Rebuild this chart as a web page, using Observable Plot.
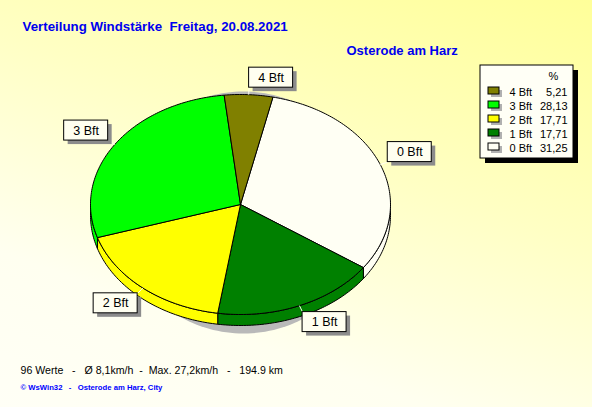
<!DOCTYPE html>
<html><head><meta charset="utf-8">
<script src="https://cdn.jsdelivr.net/npm/d3@7"></script>
<script src="https://cdn.jsdelivr.net/npm/@observablehq/plot@0.6"></script>
<style>
html,body{margin:0;padding:0;}
body{width:592px;height:407px;overflow:hidden;background:linear-gradient(200deg,#ffff99 0%,#ffffc4 40%,#fffff0 75%,#fffff6 100%);}
svg text{white-space:pre;}
</style></head><body><div id="chart"></div>
<script>
// ---- data ----
const categories = ["0 Bft", "1 Bft", "2 Bft", "3 Bft", "4 Bft"];
const percents = [31.25, 17.71, 17.71, 28.13, 5.21];
const sliceColors = ["#fffff4", "#008000", "#ffff00", "#00ff00", "#808000"];
const legendOrder = ["4 Bft", "3 Bft", "2 Bft", "1 Bft", "0 Bft"];
const legendValues = ["5,21", "28,13", "17,71", "17,71", "31,25"];
const legendHeader = "%";
const titleText = "Verteilung Windstärke  Freitag, 20.08.2021";
const subtitleText = "Osterode am Harz";
const footerText = "96 Werte   -   Ø 8,1km/h  -  Max. 27,2km/h   -   194.9 km";
const creditText = "© WsWin32   -   Osterode am Harz, City";

// ---- layout ----
const W = 592, H = 407;
const cx = 240, cy = 204, rx = 150, ry = 110, depth = 11, startDeg = 12.5;
const rad = d => d * Math.PI / 180;
const ex = a => cx + rx * Math.sin(rad(a));
const ey = a => cy - ry * Math.cos(rad(a));

const total = d3.sum(percents);
let acc = startDeg;
const slices = categories.map((c, i) => {
  const span = percents[i] / total * 360;
  const s = {cat: c, a0: acc, a1: acc + span, mid: acc + span / 2, color: sliceColors[i]};
  acc += span;
  return s;
});

const arcPts = (a0, a1, dy = 0) => {
  const n = Math.max(2, Math.ceil(a1 - a0));
  return d3.range(n + 1).map(j => {
    const a = a0 + (a1 - a0) * j / n;
    return {x: ex(a), y: ey(a) + dy};
  });
};

const topPts = slices.flatMap(s =>
  [{x: cx, y: cy}, ...arcPts(s.a0, s.a1), {x: cx, y: cy}].map(p => ({...p, id: s.cat, color: s.color})));

const wallPts = slices.flatMap(s => {
  const lo = Math.max(s.a0, 90), hi = Math.min(s.a1, 270);
  if (lo >= hi) return [];
  const t = arcPts(lo, hi);
  const b = arcPts(lo, hi, depth).reverse();
  return [...t, ...b, t[0]].map(p => ({...p, id: s.cat, color: s.color}));
});

const shadowPts = d3.range(0, 361, 2).map(a => ({
  x: cx + 3 + 125 * Math.sin(rad(a)), y: cy + 8 - 121 * Math.cos(rad(a))
}));

const bw = 44, bh = 20;
const labels = slices.map(s => {
  const sx = Math.sin(rad(s.mid)), cv = Math.cos(rad(s.mid));
  const px = ex(s.mid), py = ey(s.mid);
  const kx = px + 8 * sx, ky = py - 7 * cv;
  const x1 = sx >= 0 ? kx : kx - bw;
  const y1 = cv >= 0 ? ky - bh : ky;
  return {cat: s.cat, px, py, kx, ky, x1, x2: x1 + bw, y1, y2: y1 + bh};
});

const lgX1 = 480, lgX2 = 573, lgY1 = 65, lgY2 = 158, rowY0 = 95, rowStep = 14;
const legendRows = legendOrder.map((c, i) => ({
  cat: c, value: legendValues[i], color: sliceColors[categories.indexOf(c)],
  y: rowY0 + i * rowStep
}));

const font = "Liberation Sans, Arial, sans-serif";

const chart = Plot.plot({
  width: W, height: H, margin: 0,
  x: {domain: [0, W], range: [0, W], axis: null},
  y: {domain: [0, H], range: [0, H], axis: null},
  color: {type: "identity"},
  style: {background: "transparent", fontFamily: font},
  marks: [
    Plot.line(shadowPts, {x: "x", y: "y", fill: "#b9b9b9", stroke: "none"}),
    Plot.line(wallPts, {x: "x", y: "y", z: "id", fill: "color", stroke: "black", strokeWidth: 1, curve: "linear"}),
    Plot.line(topPts, {x: "x", y: "y", z: "id", fill: "color", stroke: "black", strokeWidth: 1, curve: "linear"}),
    Plot.link(labels, {x1: "px", y1: "py", x2: "kx", y2: "ky", stroke: "#fffff0", strokeWidth: 1}),
    Plot.rect(labels, {x1: "x1", x2: "x2", y1: "y1", y2: "y2", fill: "#8c8c8c", dx: 4, dy: 4}),
    Plot.rect(labels, {x1: "x1", x2: "x2", y1: "y1", y2: "y2", fill: "#fffff0", stroke: "black"}),
    Plot.text(labels, {x: d => (d.x1 + d.x2) / 2, y: d => (d.y1 + d.y2) / 2, text: "cat", fontSize: 12.5, fill: "black", fontFamily: font}),
    Plot.rect([0], {x1: lgX1, x2: lgX2, y1: lgY1, y2: lgY2, fill: "black", dx: 5, dy: 5}),
    Plot.rect([0], {x1: lgX1, x2: lgX2, y1: lgY1, y2: lgY2, fill: "#fffff6", stroke: "black"}),
    Plot.text([legendHeader], {x: 553, y: 79, text: d => d, fontSize: 11, lineAnchor: "bottom", fill: "black", fontFamily: font}),
    Plot.rect(legendRows, {x1: 488, x2: 499, y1: d => d.y - 8, y2: d => d.y - 1, fill: "#b0b0b0", dx: 3, dy: 3}),
    Plot.rect(legendRows, {x1: 488, x2: 499, y1: d => d.y - 8, y2: d => d.y - 1, fill: "color", stroke: "black"}),
    Plot.text(legendRows, {x: 509, y: "y", text: "cat", textAnchor: "start", lineAnchor: "bottom", fontSize: 11, fill: "black", fontFamily: font}),
    Plot.text(legendRows, {x: 567, y: "y", text: "value", textAnchor: "end", lineAnchor: "bottom", fontSize: 11, fill: "black", fontFamily: font}),
    Plot.text([titleText], {x: 22, y: 30, text: d => d, textAnchor: "start", lineAnchor: "bottom", fontSize: 13.3, fontWeight: "bold", fill: "#0000ee", fontFamily: font}),
    Plot.text([subtitleText], {x: 346, y: 54, text: d => d, textAnchor: "start", lineAnchor: "bottom", fontSize: 13, fontWeight: "bold", fill: "#0000ee", fontFamily: font}),
    Plot.text([footerText], {x: 20, y: 373, text: d => d, textAnchor: "start", lineAnchor: "bottom", fontSize: 10.6, fill: "black", fontFamily: font}),
    Plot.text([creditText], {x: 20, y: 389, text: d => d, textAnchor: "start", lineAnchor: "bottom", fontSize: 7.7, fontWeight: "bold", fill: "#0000ff", fontFamily: font})
  ]
});
document.getElementById("chart").append(chart);
</script>
</body></html>
